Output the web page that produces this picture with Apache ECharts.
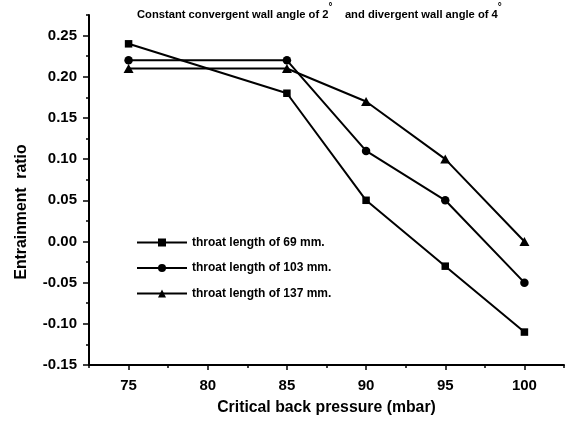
<!DOCTYPE html>
<html><head><meta charset="utf-8">
<script src="https://cdn.jsdelivr.net/npm/echarts@6/dist/echarts.min.js"></script>
<style>html,body{margin:0;padding:0;background:#fff}#c{width:582px;height:421px}</style>
</head><body><div id="c"></div>
<script>
const pressures = [75, 85, 90, 95, 100];
const throat69 = [0.24, 0.18, 0.05, -0.03, -0.11];
const throat103 = [0.22, 0.22, 0.11, 0.05, -0.05];
const throat137 = [0.21, 0.21, 0.17, 0.10, 0.00];
const seriesNames = ['throat length of 69 mm.', 'throat length of 103 mm.', 'throat length of 137 mm.'];
const xTicks = [75, 80, 85, 90, 95, 100];
const yTicks = [-0.15, -0.10, -0.05, 0.00, 0.05, 0.10, 0.15, 0.20, 0.25];
const xTitle = 'Critical back pressure (mbar)';
const yTitle = 'Entrainment  ratio';

const FF = '"Liberation Sans", Arial, sans-serif';
const chart = echarts.init(document.getElementById('c'));
const pairs = v => pressures.map((p, i) => [p, v[i]]);
const mk = (name, data, symbol, size) => ({
  name, type: 'line', data: pairs(data), xAxisIndex: 0, yAxisIndex: 0,
  symbol, symbolSize: size, showAllSymbol: true,
  lineStyle: { color: '#000', width: 2 }, itemStyle: { color: '#000' },
  emphasis: { disabled: true }, animation: false
});
const axisTxt = { color: '#000', fontFamily: FF, fontWeight: 'bold', fontSize: 15 };
chart.setOption({
  animation: false,
  backgroundColor: '#fff',
  title: {
    left: 137, top: 0, padding: 0,
    text: '{a|Constant convergent wall angle of 2}{d|°}{a|    and divergent wall angle of 4}{d|°}{s| }',
    textStyle: {
      rich: {
        a: { fontFamily: FF, fontWeight: 'bold', fontSize: 11.2, color: '#000', lineHeight: 13, verticalAlign: 'bottom' },
        d: { fontFamily: FF, fontSize: 10, color: '#000', lineHeight: 12, verticalAlign: 'top', padding: [2, 0, 0, 0] },
        s: { fontSize: 11, lineHeight: 20 }
      }
    }
  },
  legend: {
    orient: 'vertical', left: 136, top: 236.5, padding: 0, itemWidth: 50, itemHeight: 10, itemGap: 13.5,
    data: seriesNames,
    textStyle: { color: '#000', fontFamily: FF, fontWeight: 'bold', fontSize: 12 }
  },
  grid: { left: 89, top: 15, width: 475, height: 350.7, containLabel: false },
  xAxis: [{
    type: 'value', min: 72.5, max: 102.5, position: 'bottom',
    name: xTitle, nameLocation: 'middle', nameGap: 35,
    nameTextStyle: { color: '#000', fontFamily: FF, fontWeight: 'bold', fontSize: 15.8 },
    axisLine: { onZero: false, lineStyle: { color: '#000', width: 2 } },
    axisTick: { length: 5, lineStyle: { color: '#000', width: 1.5 }, customValues: xTicks },
    axisLabel: Object.assign({ margin: 13, customValues: xTicks, formatter: v => String(v) }, axisTxt),
    splitLine: { show: false }
  }, {
    type: 'value', min: 72.5, max: 102.5, interval: 2.5, position: 'bottom',
    axisLine: { show: false, onZero: false },
    axisTick: { length: 3, lineStyle: { color: '#000', width: 1.5 } },
    axisLabel: { show: false }, splitLine: { show: false }
  }],
  yAxis: [{
    type: 'value', min: -0.15, max: 0.275, position: 'left',
    axisLine: { show: true, onZero: false, lineStyle: { color: '#000', width: 2 } },
    axisTick: { show: true, length: 6, lineStyle: { color: '#000', width: 1.5 }, customValues: yTicks },
    axisLabel: Object.assign({ margin: 12, customValues: yTicks, formatter: v => v.toFixed(2) }, axisTxt),
    splitLine: { show: false }
  }, {
    type: 'value', min: -0.15, max: 0.275, interval: 0.025, position: 'left',
    axisLine: { show: false, onZero: false },
    axisTick: { show: true, length: 3, lineStyle: { color: '#000', width: 1.5 } },
    axisLabel: { show: false }, splitLine: { show: false }
  }],
  graphic: [{
    type: 'text', x: 22, y: 212, rotation: Math.PI / 2, silent: true,
    style: { text: yTitle, fill: '#000', fontFamily: FF, fontWeight: 'bold', fontSize: 15.8, align: 'center', verticalAlign: 'middle' }
  }],
  series: [
    mk(seriesNames[0], throat69, 'rect', 7.5),
    mk(seriesNames[1], throat103, 'circle', 8.5),
    mk(seriesNames[2], throat137, 'triangle', [10, 9])
  ]
});
</script></body></html>
